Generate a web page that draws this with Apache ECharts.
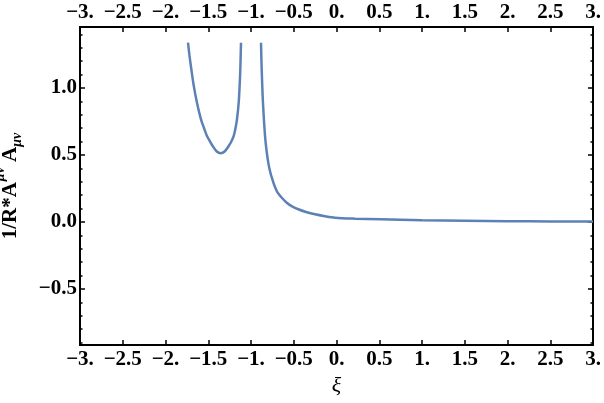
<!DOCTYPE html>
<html>
<head>
<meta charset="utf-8">
<script src="https://cdn.jsdelivr.net/npm/echarts@6/dist/echarts.min.js"></script>
<style>
  html, body { margin: 0; padding: 0; background: #fff; }
  #chart { width: 604px; height: 403px; }
</style>
</head>
<body>
<div id="chart"></div>
<script>
// curve, one pair of arrays per branch
const leftXi = [-1.737, -1.719, -1.698, -1.673, -1.632, -1.585, -1.550, -1.515, -1.480, -1.448, -1.400,
  -1.354, -1.309, -1.261, -1.230, -1.202, -1.181, -1.164, -1.144, -1.133, -1.125, -1.117];
const leftVal = [1.338, 1.239, 1.140, 1.030, 0.890, 0.766, 0.701, 0.642, 0.601, 0.567, 0.526,
  0.513, 0.526, 0.567, 0.601, 0.642, 0.701, 0.766, 0.890, 1.015, 1.140, 1.338];
const rightXi = [-0.883, -0.875, -0.860, -0.836, -0.819, -0.798, -0.778, -0.751, -0.722, -0.688, -0.637,
  -0.582, -0.520, -0.447, -0.357, -0.251, -0.135, -0.018, 0.216, 0.509, 1.0, 1.5, 2.0, 2.5, 3.0];
const rightVal = [1.338, 1.140, 0.890, 0.642, 0.537, 0.443, 0.381, 0.319, 0.265, 0.219, 0.179,
  0.144, 0.117, 0.095, 0.075, 0.057, 0.043, 0.032, 0.025, 0.020, 0.013, 0.009, 0.006, 0.004, 0.003];

const xTicks = [-3, -2.5, -2, -1.5, -1, -0.5, 0, 0.5, 1, 1.5, 2, 2.5, 3];
const yTicks = [-0.5, 0, 0.5, 1];
const yMinorTicks = [-0.9, -0.8, -0.7, -0.6, -0.4, -0.3, -0.2, -0.1, 0.1, 0.2, 0.3, 0.4,
  0.6, 0.7, 0.8, 0.9, 1.1, 1.2, 1.3, 1.4];

const xRange = [-3, 3];
const yRange = [-0.918, 1.455];

const FONT = 'Liberation Serif';
const fmt = (v) => {
  const s = Number.isInteger(v) ? v + '.' : String(v);
  return s.replace('-', '\u2212');
};
const yFmt = (v) => v.toFixed(1).replace('-', '\u2212');

const chart = echarts.init(document.getElementById('chart'), null, { renderer: 'canvas' });

const frameLine = { show: true, onZero: false, lineStyle: { color: '#000', width: 2 } };
const lbl = { color: '#000', fontFamily: FONT, fontWeight: 'bold', fontSize: 21 };

const xAxisBase = (pos, showLabel) => ({
  type: 'value',
  position: pos,
  min: xRange[0],
  max: xRange[1],
  splitLine: { show: false },
  axisLine: frameLine,
  axisTick: { show: true, inside: true, length: 5, customValues: xTicks, lineStyle: { color: '#000', width: 1.5 } },
  axisLabel: Object.assign({ show: showLabel, margin: 4, customValues: xTicks, formatter: fmt }, lbl)
});

const yAxisBase = (pos, ticks, len, showLabel) => ({
  type: 'value',
  position: pos,
  offset: 0,
  min: yRange[0],
  max: yRange[1],
  splitLine: { show: false },
  axisLine: frameLine,
  axisTick: { show: true, inside: true, length: len, customValues: ticks, lineStyle: { color: '#000', width: 1.5 } },
  axisLabel: Object.assign({ show: showLabel, margin: 3, customValues: ticks, formatter: yFmt }, lbl)
});

const yMain = yAxisBase('left', yTicks, 5, true);
yMain.name = '{n|1/R*A}{sup|\u03bc\u03bd}{n| A}{sub|\u03bc\u03bd}';
yMain.nameLocation = 'middle';
yMain.nameRotate = 90;
yMain.nameGap = 50;
const nameBase = { fontFamily: FONT, fontWeight: 'bold', color: '#000' };
yMain.nameTextStyle = {
  color: '#000', fontFamily: FONT, fontWeight: 'bold', fontSize: 21, lineHeight: 34,
  rich: {
    n: Object.assign({ fontSize: 21, verticalAlign: 'middle', lineHeight: 34 }, nameBase),
    sup: Object.assign({ fontStyle: 'italic', fontSize: 14, verticalAlign: 'top', lineHeight: 14, padding: [0, 0, 0, 1] }, nameBase),
    sub: Object.assign({ fontStyle: 'italic', fontSize: 14, verticalAlign: 'bottom', lineHeight: 14, padding: [0, 0, 3, 0] }, nameBase)
  }
};

const xMain = xAxisBase('bottom', true);
xMain.name = '\u03be';
xMain.nameLocation = 'middle';
xMain.nameGap = 28;
xMain.nameTextStyle = { color: '#000', fontFamily: FONT, fontStyle: 'italic', fontSize: 22 };

const curveStyle = {
  type: 'line',
  xAxisIndex: 0,
  yAxisIndex: 0,
  showSymbol: false,
  smooth: 0.3,
  lineStyle: { color: '#5E81B5', width: 2.5 },
  itemStyle: { color: '#5E81B5' }
};

const option = {
  backgroundColor: '#fff',
  animation: false,
  grid: { left: 80, right: 11, top: 27, bottom: 58, containLabel: false, outerBoundsMode: 'none' },
  xAxis: [xMain, xAxisBase('top', true)],
  yAxis: [
    yMain,
    yAxisBase('left', yMinorTicks, 2.5, false),
    yAxisBase('right', yTicks, 5, false),
    yAxisBase('right', yMinorTicks, 2.5, false)
  ],
  series: [
    Object.assign({ data: leftXi.map((x, i) => [x, leftVal[i]]) }, curveStyle),
    Object.assign({ data: rightXi.map((x, i) => [x, rightVal[i]]) }, curveStyle)
  ]
};

chart.setOption(option);
</script>
</body>
</html>
